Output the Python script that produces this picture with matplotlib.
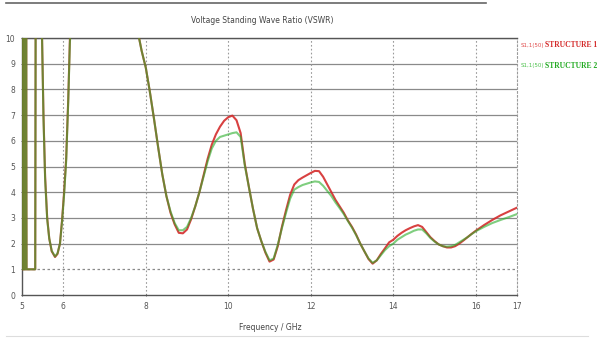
import matplotlib
matplotlib.use("Agg")
import matplotlib.pyplot as plt
import numpy as np

# frequencies (GHz) and VSWR
freq = [5.00, 5.02, 5.03, 5.04, 5.05, 5.06, 5.07, 5.08, 5.09, 5.10, 5.11, 5.32, 5.33, 5.45,
        5.48, 5.52, 5.56, 5.61, 5.66, 5.72, 5.80, 5.86, 5.92, 5.97, 6.02, 6.07, 6.12, 6.16, 6.20,
        7.75, 7.80, 7.90, 8.00, 8.10, 8.20, 8.30, 8.40, 8.50, 8.60, 8.70, 8.80, 8.90,
        9.00, 9.10, 9.20, 9.30, 9.40, 9.50, 9.60, 9.70, 9.80, 9.90,
        10.00, 10.10, 10.20, 10.30, 10.40, 10.50, 10.60, 10.70, 10.80, 10.90,
        11.00, 11.10, 11.20, 11.30, 11.40, 11.50, 11.60, 11.70, 11.80, 11.90,
        12.00, 12.10, 12.20, 12.30, 12.40, 12.50, 12.60, 12.70, 12.80, 12.90,
        13.00, 13.10, 13.20, 13.30, 13.40, 13.50, 13.60, 13.70, 13.80, 13.90,
        14.00, 14.10, 14.20, 14.30, 14.40, 14.50, 14.60, 14.70, 14.80, 14.90,
        15.00, 15.10, 15.20, 15.30, 15.40, 15.50, 15.60, 15.70, 15.80, 15.90,
        16.00, 16.20, 16.40, 16.60, 16.80, 17.00]

vswr_1 = [1.0, 10.5, 1.0, 10.5, 1.0, 10.5, 1.0, 10.5, 1.0, 10.5, 1.0, 1.0, 10.5, 10.5,
          10.5, 7.0, 4.6, 3.0, 2.2, 1.7, 1.48, 1.6, 2.0, 2.9, 4.0, 5.3, 7.6, 9.9, 11.0,
          11.0, 10.3, 9.5, 8.85, 7.9, 6.85, 5.75, 4.7, 3.85, 3.2, 2.75, 2.42, 2.40,
          2.55, 2.95, 3.45, 4.0, 4.65, 5.3, 5.85, 6.25, 6.55, 6.78,
          6.92, 6.98, 6.8, 6.3, 5.1, 4.2, 3.35, 2.6, 2.1, 1.65,
          1.30, 1.38, 1.9, 2.65, 3.3, 3.9, 4.3, 4.47, 4.57, 4.66,
          4.75, 4.83, 4.82, 4.6, 4.3, 4.0, 3.7, 3.45, 3.2, 2.9,
          2.65, 2.35, 2.0, 1.7, 1.4, 1.22, 1.35, 1.6, 1.82, 2.05,
          2.15, 2.3, 2.42, 2.52, 2.6, 2.67, 2.72, 2.65, 2.45, 2.25,
          2.1, 1.97, 1.9, 1.85, 1.85, 1.9, 2.0, 2.12, 2.25, 2.38,
          2.5, 2.72, 2.92, 3.1, 3.25, 3.4]

vswr_2 = [1.0, 10.5, 1.0, 10.5, 1.0, 10.5, 1.0, 10.5, 1.0, 10.5, 1.0, 1.0, 10.5, 10.5,
          10.5, 6.9, 4.5, 2.95, 2.2, 1.72, 1.5, 1.62, 2.0, 2.85, 3.9, 5.2, 7.5, 9.8, 11.0,
          11.0, 10.3, 9.5, 8.85, 7.9, 6.85, 5.75, 4.7, 3.85, 3.25, 2.8, 2.52, 2.52,
          2.65, 3.0, 3.45, 4.0, 4.6, 5.2, 5.7, 6.0, 6.15, 6.2,
          6.25, 6.3, 6.33, 6.15, 5.05, 4.2, 3.35, 2.6, 2.1, 1.68,
          1.35, 1.42, 1.95, 2.6, 3.2, 3.75, 4.1, 4.2, 4.28, 4.33,
          4.38, 4.42, 4.40, 4.25, 4.05, 3.85, 3.6, 3.38, 3.15, 2.88,
          2.62, 2.33, 2.0, 1.7, 1.42, 1.25, 1.35, 1.55, 1.75, 1.9,
          2.0, 2.15, 2.25, 2.35, 2.42, 2.5, 2.55, 2.55, 2.4, 2.22,
          2.08, 1.97, 1.9, 1.88, 1.9, 1.95, 2.05, 2.15, 2.25, 2.37,
          2.48, 2.65, 2.8, 2.92, 3.03, 3.15]

xticks = [5, 6, 8, 10, 12, 14, 16, 17]
yticks = list(range(0, 11))

fig = plt.figure(figsize=(6, 3.43), dpi=100)
ax = fig.add_axes([0.0367, 0.1399, 0.825, 0.7493])

ax.plot(freq, vswr_1, color='#d42c2c', lw=1.5, alpha=0.9, zorder=3)
ax.plot(freq, vswr_2, color='#2aae2a', lw=1.5, alpha=0.6, zorder=4)

ax.set_xlim(5, 17)
ax.set_ylim(0, 10)
ax.set_xticks(xticks)
ax.set_yticks(yticks)
ax.tick_params(labelsize=5.5, colors='#555555', length=2, width=0.6, direction='inout', pad=4)

# grid: solid horizontals, dotted verticals
for y in yticks[2:]:
    ax.axhline(y, color='#8a8a8a', lw=0.9, zorder=1)
ax.axhline(1, color='#8a8a8a', lw=0.9, ls=(0, (2, 2)), zorder=1)
for x in xticks[1:-1]:
    ax.axvline(x, color='#9a9a9a', lw=0.8, ls=(0, (1.5, 2)), zorder=1)

for s in ['left', 'bottom', 'top']:
    ax.spines[s].set_color('#555555')
    ax.spines[s].set_linewidth(1.0)
ax.spines['right'].set_color('#9a9a9a')
ax.spines['right'].set_linestyle((0, (1.5, 2)))
ax.spines['right'].set_linewidth(0.8)

fig.text(0.437, 0.94, 'Voltage Standing Wave Ratio (VSWR)', ha='center', va='center',
         fontsize=5.5, color='#444444')
fig.text(0.45, 0.045, 'Frequency / GHz', ha='center', va='center',
         fontsize=5.5, color='#444444')

# legend text on the right, kept inside the picture
legend = [('STRUCTURE 1', '#d42a2a', '#e04a4a', 0.868),
          ('STRUCTURE 2', '#22aa22', '#4ac04a', 0.808)]
fig.canvas.draw()
for name, c_main, c_small, yy in legend:
    t = fig.text(0.995, yy, name, fontsize=5.5, color=c_main, va='center', ha='right',
                 family='Liberation Serif', weight='bold')
    bb = t.get_window_extent(renderer=fig.canvas.get_renderer())
    x0 = (bb.x0 - 1) / fig.bbox.width
    fig.text(x0, yy, 'S1,1(50)', fontsize=4.0, color=c_small, va='center', ha='right')

# frame lines of the picture
fig.add_artist(plt.Line2D([0.01, 0.81], [0.99, 0.99], color='#666666', lw=1.2))
fig.add_artist(plt.Line2D([0.01, 0.98], [0.02, 0.02], color='#dddddd', lw=0.8))

fig.savefig('out.png', dpi=100)
